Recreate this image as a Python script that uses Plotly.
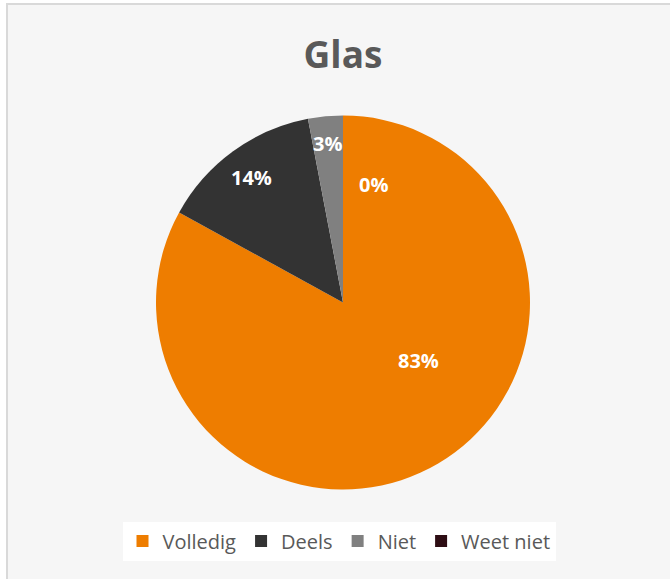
import plotly.graph_objects as go

categories = ["Volledig", "Deels", "Niet", "Weet niet"]
values = [83, 14, 3, 0]
colors = ["#EE7D00", "#333333", "#808080", "#2E0D14"]
title_text = "Glas"

# label anchor positions in pixels (Excel "best fit" placement)
label_px = [(418.5, 360), (251, 177), (327.5, 143), (373, 184)]

W, H = 670, 579
total = sum(values)
pct_text = [f"{round(v / total * 100)}%" for v in values]

fig = go.Figure()
fig.add_trace(go.Pie(
    labels=categories,
    values=values,
    marker=dict(colors=colors, line=dict(width=0)),
    sort=False,
    direction="clockwise",
    rotation=0,
    textinfo="none",
    domain=dict(x=[156 / W, 530 / W], y=[1 - 490 / H, 1 - 115 / H]),
    showlegend=True,
    hoverinfo="label+percent",
))

annotations = []
for t, (px, py) in zip(pct_text, label_px):
    annotations.append(dict(
        text=t, x=px / W, y=1 - py / H, xref="paper", yref="paper",
        xanchor="center", yanchor="middle", showarrow=False,
        font=dict(family="Open Sans", size=20, color="white", weight="bold"),
    ))

fig.update_layout(
    width=W, height=H,
    margin=dict(l=0, r=0, t=0, b=0),
    paper_bgcolor="white",
    plot_bgcolor="white",
    title=dict(text=title_text, x=343 / W, xanchor="center", y=1 - 55 / H, yanchor="middle",
               font=dict(family="Open Sans", size=37, color="#595959", weight="bold")),
    legend=dict(orientation="h", x=339 / W, xanchor="center", y=1 - 541 / H, yanchor="middle",
                font=dict(family="Open Sans", size=20, color="#595959"),
                bgcolor="#FFFFFF", itemclick=False, itemdoubleclick=False),
    annotations=annotations,
    shapes=[
        dict(type="rect", xref="paper", yref="paper", x0=7 / W, x1=1.01, y0=-0.01, y1=1 - 4 / H,
             line=dict(color="#D9D9D9", width=2), fillcolor="#F6F6F6", layer="below"),
    ],
)
fig.write_html("out.html", config={"displayModeBar": False},
               post_script="document.body.style.margin='0';")
